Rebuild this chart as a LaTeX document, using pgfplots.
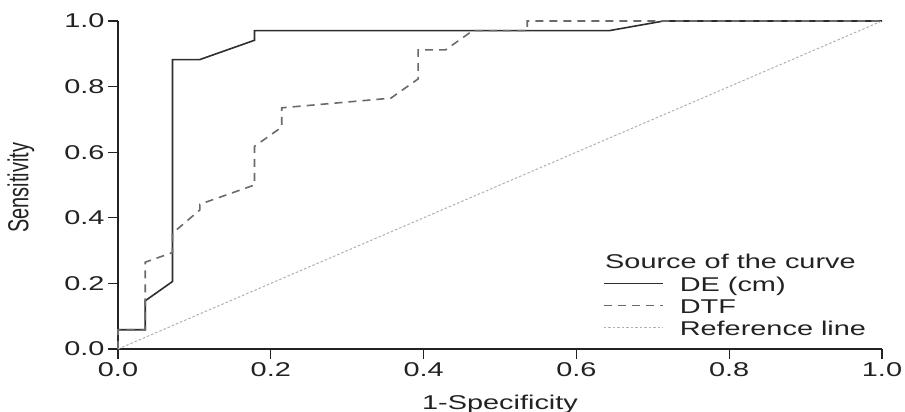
\documentclass[border=0pt]{standalone}
\usepackage{pgfplots}
\pgfplotsset{compat=1.18}
\usepackage{graphicx}
\usepackage{fontspec}
\setmainfont[FakeStretch=1.45]{Liberation Sans}
\newfontfamily\ylabfont{Liberation Sans}
\newfontfamily\tickfont[FakeStretch=1.45]{Liberation Sans}

\definecolor{axisgray}{HTML}{222222}
\definecolor{decol}{HTML}{2E2E2E}
\definecolor{dtfcol}{HTML}{6A6A6A}
\definecolor{refcol}{HTML}{B0B0B0}

\begin{document}
\begin{tikzpicture}
\begin{axis}[
    at={(0,0)}, anchor=south west,
    width=764bp, height=328bp, scale only axis,
    xmin=0, xmax=1, ymin=0, ymax=1,
    axis x line*=bottom, axis y line*=left,
    axis line style={line width=1.3bp, color=axisgray},
    tick align=outside,
    major tick length=10bp,
    tick style={line width=1.3bp, color=axisgray},
    xtick={0,0.2,0.4,0.6,0.8,1}, ytick={0,0.2,0.4,0.6,0.8,1},
    xticklabels={0.0,0.2,0.4,0.6,0.8,1.0},
    yticklabels={0.0,0.2,0.4,0.6,0.8,1.0},
    ticklabel style={font=\tickfont\fontsize{20}{22}\selectfont, text=axisgray},
    xlabel={1-Specificity},
    x label style={at={(axis description cs:0.5,0)}, anchor=base, yshift=-60bp,
                   font=\fontsize{20}{22}\selectfont, text=axisgray},
    ylabel={\scalebox{1}[1.45]{\ylabfont\fontsize{20}{22}\selectfont Sensitivity}},
    y label style={at={(axis description cs:-0.127,0.492)}, anchor=center, text=axisgray},
    legend style={draw=none, fill=none, at={(axis cs:0.6348,0.219)}, anchor=north west,
                  inner sep=0pt, row sep=3.5bp,
                  font=\fontsize{20}{22}\selectfont, text=axisgray,
                  nodes={inner sep=0pt, text height=14.5bp, text depth=4bp}},
    legend cell align=left,
    legend image code/.code={\draw[#1] (0bp,3bp) -- (59bp,3bp); \path (75bp,3bp);},
    clip=false,
]
% DE (cm)
\addplot[color=decol, line width=1.6bp] coordinates {
    (0,0) (0,0.0588) (0.0357,0.0588) (0.0357,0.1471) (0.0714,0.2059)
    (0.0714,0.8824) (0.1071,0.8824) (0.1786,0.9412) (0.1786,0.9706)
    (0.6429,0.9706) (0.7143,1) (1,1)
};
\addlegendentry{DE (cm)}
% DTF
\addplot[color=dtfcol, line width=1.6bp, dash pattern=on 8bp off 6bp] coordinates {
    (0,0) (0,0.0588) (0.0357,0.0588) (0.0357,0.1471) (0.0357,0.2647)
    (0.0714,0.2941) (0.0714,0.3529) (0.1071,0.424) (0.1071,0.4412)
    (0.1786,0.5) (0.1786,0.6176) (0.2143,0.6765) (0.2143,0.7353)
    (0.3571,0.7647) (0.3929,0.8235) (0.3929,0.9118) (0.4286,0.9118)
    (0.4643,0.9706) (0.5357,0.9706) (0.5357,1) (1,1)
};
\addlegendentry{DTF}
% Reference line
\addplot[color=refcol, line width=1bp, dash pattern=on 2.5bp off 2bp] coordinates {
    (0,0) (1,1)
};
\addlegendentry{Reference line}
\node[anchor=base west, font=\fontsize{20}{22}\selectfont, text=axisgray, inner sep=0pt]
    at (axis cs:0.6374,0.244) {Source of the curve};
\end{axis}
\pgfresetboundingbox
\path (-118bp,-63bp) rectangle (787bp,349bp);
\end{tikzpicture}
\end{document}
